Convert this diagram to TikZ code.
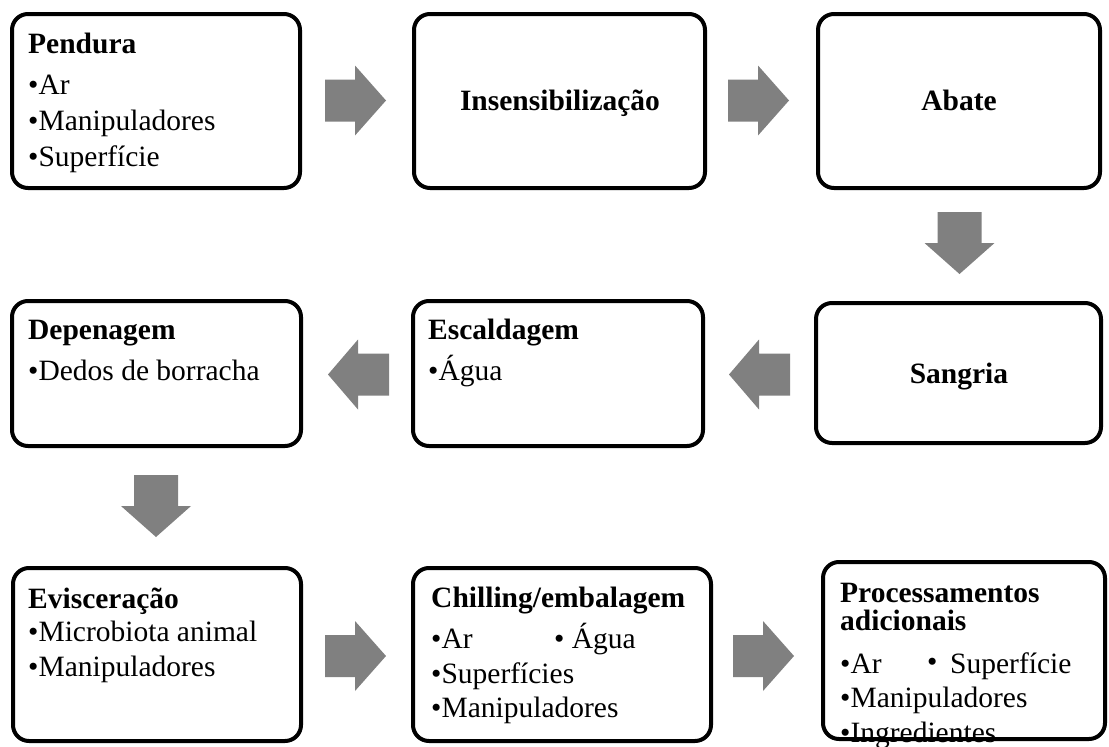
\documentclass[tikz,border=0pt]{standalone}
\usepackage{fontspec}
\setmainfont{Liberation Serif}
\definecolor{arrowgray}{HTML}{808080}
\tikzset{
 stepbox/.style={draw=black, line width=4pt, rounded corners=16pt, fill=white, inner sep=0pt},
 txt/.style={anchor=base west, inner sep=0pt, font=\fontsize{29.5}{34}\selectfont},
 hdr/.style={anchor=base west, inner sep=0pt, font=\fontsize{29.5}{34}\selectfont\bfseries},
 ctr/.style={anchor=base, inner sep=0pt, font=\fontsize{29.5}{34}\selectfont\bfseries},
 blockarrow/.style={fill=arrowgray, draw=none},
}
\newcommand\blockR[2]{\fill[blockarrow] (#1,#2) ++(0,-21) -- ++(30,0) -- ++(0,-14) -- ++(31,35) -- ++(-31,35) -- ++(0,-14) -- ++(-30,0) -- cycle;}
\newcommand\blockL[2]{\fill[blockarrow] (#1,#2) ++(0,-21) -- ++(-31,0) -- ++(0,-14) -- ++(-30,35) -- ++(30,35) -- ++(0,-14) -- ++(31,0) -- cycle;}
\newcommand\blockD[2]{\fill[blockarrow] (#1,#2) ++(-22,0) -- ++(0,31) -- ++(-13,0) -- ++(35,31) -- ++(35,-31) -- ++(-13,0) -- ++(0,-31) -- cycle;}
\begin{document}
\begin{tikzpicture}[x=1pt,y=-1pt]
\useasboundingbox[fill=white] (0,0) rectangle (1109,747);
\clip (0,0) rectangle (1109,747);
% boxes
\node[stepbox, minimum width=288pt, minimum height=174pt] (pend) at (156,101) {};
\node[stepbox, minimum width=291pt, minimum height=174pt] (insens) at (559.5,101) {};
\node[stepbox, minimum width=282pt, minimum height=174pt] (abate) at (959,101) {};
\node[stepbox, minimum width=289pt, minimum height=145pt] (depen) at (156.5,373.5) {};
\node[stepbox, minimum width=290pt, minimum height=145pt] (escal) at (558,373.5) {};
\node[stepbox, minimum width=285pt, minimum height=140pt] (sangria) at (958.5,373) {};
\node[stepbox, minimum width=288pt, minimum height=173pt] (evisc) at (157,654.5) {};
\node[stepbox, minimum width=298pt, minimum height=173pt] (chill) at (562,654.5) {};
\node[stepbox, minimum width=282pt, minimum height=177pt] (proc) at (964,650.5) {};
% arrows
\blockR{325}{100.5}
\blockR{728}{100.5}
\blockD{959.5}{212}
\blockL{790}{374.5}
\blockL{389}{374.5}
\blockD{156}{475}
\blockR{325}{656}
\blockR{733}{656}
% texts
\node[hdr] (t1) at (28,53) {Pendura};
\node[txt] (t1a) at (28,94) {•Ar};
\node[txt] (t1b) at (28,130) {•Manipuladores};
\node[txt] (t1c) at (28,166) {•Superfície};
\node[ctr] (t2) at (560,110) {Insensibilização};
\node[ctr] (t3) at (959,110) {Abate};
\node[ctr] (t4) at (959,383) {Sangria};
\node[hdr] (t5) at (428,339) {Escaldagem};
\node[txt] (t5a) at (428,380) {•Água};
\node[hdr] (t6) at (28,339) {Depenagem};
\node[txt] (t6a) at (28,380) {•Dedos de borracha};
\node[hdr] (t7) at (28,608) {Evisceração};
\node[txt] (t7a) at (28,641) {•Microbiota animal};
\node[txt] (t7b) at (28,676) {•Manipuladores};
\node[hdr] (t8) at (431,607) {Chilling/embalagem};
\node[txt] (t8a) at (431,648) {•Ar};
\node[txt] (t8b) at (554,648) {• Água};
\node[txt] (t8c) at (431,683) {•Superfícies};
\node[txt] (t8d) at (431,717) {•Manipuladores};
\node[hdr] (t9) at (840,602) {Processamentos};
\node[hdr] (t9b) at (840,630) {adicionais};
\node[txt] (t9c) at (840,673) {•Ar};
\node[txt] (t9d) at (927,671) {•};
\node[txt] (t9e) at (950,673) {Superfície};
\node[txt] (t9f) at (840,707) {•Manipuladores};
\node[txt] (t9g) at (840,742) {•Ingredientes};
\end{tikzpicture}
\end{document}
